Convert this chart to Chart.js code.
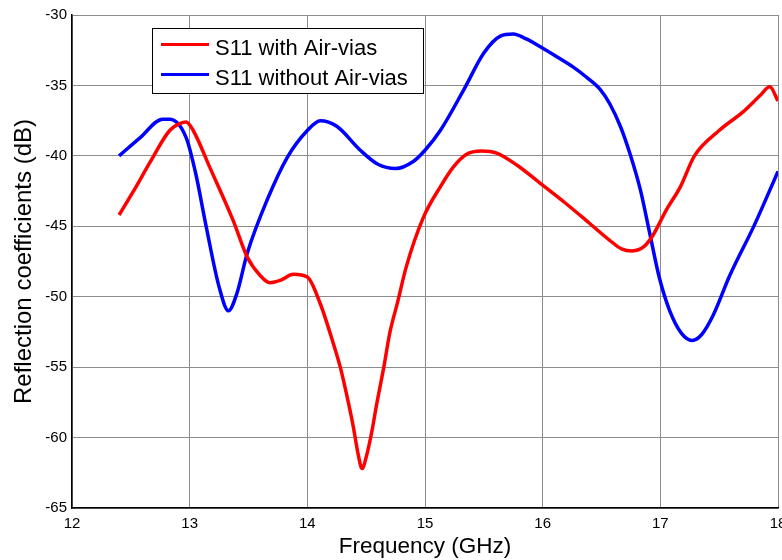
<!DOCTYPE html>
<html>
<head>
<meta charset="utf-8">
<script src="https://cdn.jsdelivr.net/npm/chart.js@4/dist/chart.umd.min.js"></script>
<style>
  html, body { margin: 0; padding: 0; background: #fff; }
  #wrap { width: 782px; height: 560px; }
</style>
</head>
<body>
<div id="wrap"><canvas id="grafico" width="782" height="560"></canvas></div>
<script>
// dados
var freqAir = [12.4, 12.53, 12.66, 12.83, 12.92, 12.97, 13.03, 13.17, 13.37, 13.49, 13.6, 13.68, 13.78, 13.88, 14.0, 14.11, 14.22, 14.28, 14.33, 14.39, 14.43, 14.465, 14.5, 14.55, 14.59, 14.65, 14.7, 14.77, 14.84, 14.99, 15.13, 15.24, 15.35, 15.48, 15.61, 15.78, 15.98, 16.2, 16.4, 16.57, 16.67, 16.76, 16.86, 16.94, 17.05, 17.17, 17.29, 17.5, 17.7, 17.85, 17.93, 18.0]
var s11Air = [-44.2, -42.4, -40.5, -38.2, -37.7, -37.6, -38.2, -40.8, -44.6, -47.2, -48.5, -49.0, -48.8, -48.4, -48.6, -50.5, -53.3, -55.0, -56.8, -59.2, -61.1, -62.2, -61.4, -59.5, -57.6, -55.0, -52.6, -50.3, -47.9, -44.3, -42.2, -40.8, -39.9, -39.65, -39.8, -40.65, -41.95, -43.4, -44.8, -46.0, -46.6, -46.75, -46.45, -45.6, -43.85, -42.2, -40.0, -38.2, -36.9, -35.7, -35.1, -36.1]

var freqSem = [12.4, 12.58, 12.77, 12.83, 12.97, 13.05, 13.14, 13.25, 13.33, 13.4, 13.49, 13.66, 13.83, 14.0, 14.11, 14.25, 14.45, 14.6, 14.75, 14.9, 15.0, 15.13, 15.33, 15.5, 15.64, 15.75, 15.86, 15.98, 16.12, 16.26, 16.37, 16.49, 16.57, 16.66, 16.74, 16.83, 16.91, 16.99, 17.08, 17.18, 17.27, 17.35, 17.45, 17.59, 17.8, 18.0]
var s11Sem = [-40.0, -38.7, -37.4, -37.4, -38.7, -41.2, -45.0, -49.3, -51.0, -49.8, -46.9, -43.1, -40.1, -38.2, -37.5, -37.9, -39.6, -40.6, -40.9, -40.4, -39.6, -38.2, -35.3, -32.7, -31.5, -31.35, -31.7, -32.25, -32.96, -33.7, -34.4, -35.3, -36.3, -37.9, -39.8, -42.4, -45.5, -48.6, -51.0, -52.6, -53.1, -52.7, -51.3, -48.5, -44.9, -41.1]

var xTicks = [12, 13, 14, 15, 16, 17, 18]
var yTicks = [-30, -35, -40, -45, -50, -55, -60, -65]

function pontos(xs, ys) {
    return xs.map(function (x, i) { return { x: x, y: ys[i] } })
}

// legenda desenhada dentro da area, como no matlab
var legendaBox = {
    id: 'legendaBox',
    afterDraw: function (chart) {
        var ctx = chart.ctx
        var ds = chart.data.datasets
        ctx.save()
        ctx.fillStyle = '#fff'
        ctx.fillRect(152, 28, 271, 65)
        ctx.strokeStyle = '#000'
        ctx.lineWidth = 1
        ctx.strokeRect(152.5, 28.5, 271, 65)
        ctx.font = '22px "Liberation Sans", Arial, sans-serif'
        ctx.textBaseline = 'alphabetic'
        for (var i = 0; i < ds.length; i++) {
            var yy = 44.5 + i * 30
            ctx.strokeStyle = ds[i].borderColor
            ctx.lineWidth = 3
            ctx.beginPath()
            ctx.moveTo(161, yy)
            ctx.lineTo(209, yy)
            ctx.stroke()
            ctx.fillStyle = '#000'
            ctx.fillText(ds[i].label, 215, yy + 10)
        }
        ctx.restore()
    }
}

Chart.defaults.font.family = '"Liberation Sans", Arial, sans-serif'
Chart.defaults.color = '#000'

var grafico = new Chart(document.getElementById('grafico'), {
    type: 'line',
    data: {
        datasets: [{
            label: 'S11 with Air-vias',
            data: pontos(freqAir, s11Air),
            borderColor: 'rgb(255, 0, 0)',
            borderWidth: 3.5,
            pointRadius: 0,
            cubicInterpolationMode: 'monotone',
            fill: false
        }, {
            label: 'S11 without Air-vias',
            data: pontos(freqSem, s11Sem),
            borderColor: 'rgb(0, 0, 255)',
            borderWidth: 3.5,
            pointRadius: 0,
            cubicInterpolationMode: 'monotone',
            fill: false
        }]
    },
    options: {
        responsive: false,
        animation: false,
        layout: { padding: { left: 0, right: 4, top: 15, bottom: 0 } },
        plugins: {
            legend: { display: false },
            tooltip: { enabled: false }
        },
        scales: {
            x: {
                type: 'linear',
                min: 12,
                max: 18,
                afterBuildTicks: function (s) { s.ticks = xTicks.map(function (v) { return { value: v } }) },
                afterFit: function (s) { s.height = 52; s.paddingLeft = 0; s.paddingRight = 0 },
                ticks: { font: { size: 15 }, padding: 7, maxRotation: 0, autoSkip: false },
                grid: { color: '#8c8c8c', lineWidth: 1, drawTicks: false },
                border: { color: '#000', width: 1.5 },
                title: { display: true, text: 'Frequency (GHz)', font: { size: 22.5 }, padding: { top: 0, bottom: 0 } }
            },
            y: {
                min: -65,
                max: -30,
                afterBuildTicks: function (s) { s.ticks = yTicks.map(function (v) { return { value: v } }) },
                afterFit: function (s) { s.width = 72; s.paddingTop = 0; s.paddingBottom = 0 },
                ticks: { font: { size: 15 }, padding: 5, autoSkip: false },
                grid: { color: '#8c8c8c', lineWidth: 1, drawTicks: false },
                border: { color: '#000', width: 1.5 },
                title: { display: true, text: 'Reflection coefficients (dB)', font: { size: 24 }, padding: { top: 10, bottom: 0 } }
            }
        }
    },
    plugins: [legendaBox]
})
</script>
</body>
</html>
